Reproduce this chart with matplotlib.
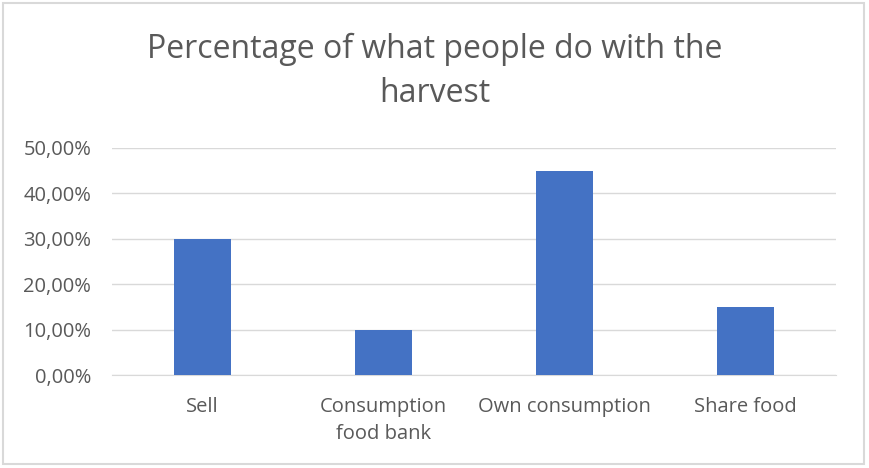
import matplotlib.pyplot as plt
from matplotlib.ticker import FuncFormatter
from matplotlib.patches import Rectangle

# data
categories = ["Sell", "Consumption\nfood bank", "Own consumption", "Share food"]
values = [0.30, 0.10, 0.45, 0.15]
yticks = [0.0, 0.1, 0.2, 0.3, 0.4, 0.5]

plt.rcParams['font.family'] = ['Open Sans', 'DejaVu Sans']
grey = '#595959'

fig = plt.figure(figsize=(8.69, 4.68), dpi=100)
fig.patches.append(Rectangle((0.004, 0.008), 0.99, 0.985, transform=fig.transFigure,
                             fill=False, edgecolor='#d9d9d9', linewidth=1.5))

ax = fig.add_axes([0.129, 0.1987, 0.833, 0.4851])
x = range(len(categories))
ax.bar(x, values, width=0.315, color='#4472C4', zorder=3)

ax.set_ylim(0, 0.5)
ax.set_xlim(-0.5, len(categories) - 0.5)
ax.set_yticks(yticks)
ax.yaxis.set_major_formatter(FuncFormatter(lambda v, p: ("%.2f%%" % (v * 100)).replace('.', ',')))
ax.set_xticks(list(x))
ax.set_xticklabels(categories, linespacing=1.45)
ax.grid(axis='y', color='#d9d9d9', linewidth=1, zorder=0)
for s in ['top', 'right', 'left']:
    ax.spines[s].set_visible(False)
ax.spines['bottom'].set_color('#d9d9d9')
ax.tick_params(axis='both', length=0, labelsize=14.5, labelcolor=grey)
ax.tick_params(axis='x', pad=16)
ax.tick_params(axis='y', pad=15)

fig.text(0.5, 0.847, "Percentage of what people do with the\nharvest", ha='center', va='center',
         fontsize=23, color=grey, linespacing=1.45)

plt.savefig("out.png", dpi=100)
